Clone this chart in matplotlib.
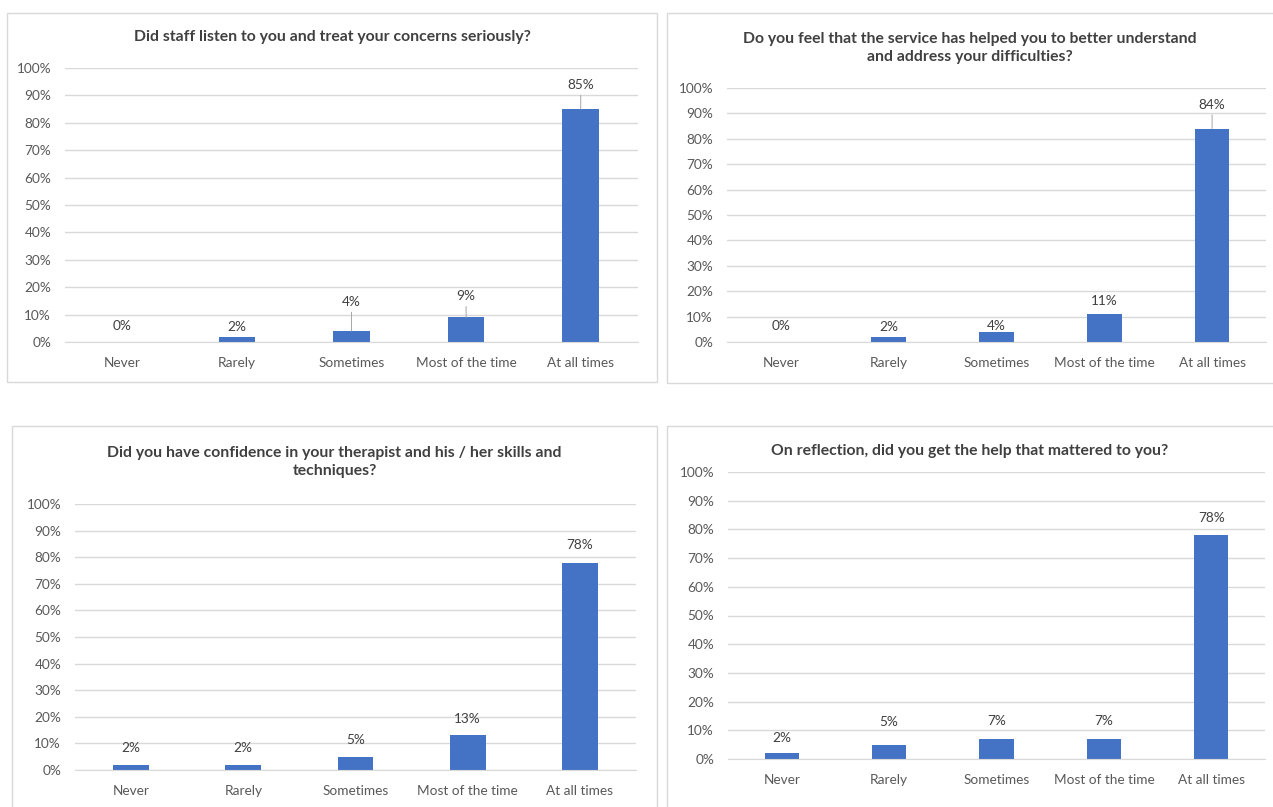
import matplotlib.pyplot as plt
from matplotlib.patches import Rectangle
from matplotlib.ticker import PercentFormatter

# Survey answers, percent of respondents
categories = ["Never", "Rarely", "Sometimes", "Most of the time", "At all times"]
listened = [0, 2, 4, 9, 85]
understand = [0, 2, 4, 11, 84]
confidence = [2, 2, 5, 13, 78]
mattered = [2, 5, 7, 7, 78]

titles = [
    "Did staff listen to you and treat your concerns seriously?",
    "Do you feel that the service has helped you to better understand\nand address your difficulties?",
    "Did you have confidence in your therapist and his / her skills and\ntechniques?",
    "On reflection, did you get the help that mattered to you?",
]

BAR = "#4472C4"
GRID = "#D9D9D9"
TICK = "#595959"
LABEL = "#404040"
W, H = 1273, 807

plt.rcParams["font.family"] = ["Lato", "DejaVu Sans"]

fig = plt.figure(figsize=(W / 100, H / 100), dpi=100)
fig.patch.set_facecolor("white")


def px_rect(x0, y0, x1, y1):
    # pixel box (top-left origin) -> figure fraction [l, b, w, h]
    return [x0 / W, (H - y1) / H, (x1 - x0) / W, (y1 - y0) / H]


# (frame box, plot box, title y, label offsets px, leader flags)
panels = [
    dict(values=listened, frame=(7, 13, 657, 382), plot=(65, 68, 638, 342), title_y=37,
         offsets=[16, 10, 29, 21, 24], leaders=[0, 0, 1, 1, 1]),
    dict(values=understand, frame=(667, 13, 1290, 383), plot=(727, 88, 1266, 342), title_y=48,
         offsets=[16, 10, 6, 13, 24], leaders=[0, 0, 0, 0, 1]),
    dict(values=confidence, frame=(12, 426, 657, 830), plot=(75, 504, 636, 770), title_y=462,
         offsets=[17, 17, 17, 16, 18], leaders=[0, 0, 0, 0, 0]),
    dict(values=mattered, frame=(667, 426, 1290, 830), plot=(728, 472, 1265, 759), title_y=451,
         offsets=[15, 23, 18, 18, 17], leaders=[0, 0, 0, 0, 0]),
]

for title, p in zip(titles, panels):
    fx0, fy0, fx1, fy1 = p["frame"]
    fig.patches.append(Rectangle((fx0 / W, (H - fy1) / H), (fx1 - fx0) / W, (fy1 - fy0) / H,
                                 transform=fig.transFigure, fill=False,
                                 edgecolor=GRID, linewidth=1.0))
    fig.text((fx0 + min(fx1, W)) / 2 / W, 1 - p["title_y"] / H, title,
             ha="center", va="center", fontsize=11.3, fontweight="bold",
             color=LABEL, linespacing=1.4)

    ax = fig.add_axes(px_rect(*p["plot"]))
    x = list(range(len(categories)))
    ax.bar(x, p["values"], width=0.32, color=BAR, zorder=3)
    ax.set_xlim(-0.5, len(categories) - 0.5)
    ax.set_ylim(0, 100)
    ax.set_yticks(range(0, 101, 10))
    ax.yaxis.set_major_formatter(PercentFormatter(decimals=0))
    ax.set_xticks(x)
    ax.set_xticklabels(categories)
    ax.tick_params(axis="both", length=0, colors=TICK, labelsize=9.8)
    ax.tick_params(axis="y", pad=10)
    ax.tick_params(axis="x", pad=11)
    ax.grid(axis="y", color=GRID, linewidth=1.0, zorder=0)
    for side in ("top", "right", "left"):
        ax.spines[side].set_visible(False)
    ax.spines["bottom"].set_color(GRID)
    ax.spines["bottom"].set_zorder(4)
    ax.set_facecolor("none")

    for xi, v, off, lead in zip(x, p["values"], p["offsets"], p["leaders"]):
        kw = {}
        if lead:
            kw["arrowprops"] = dict(arrowstyle="-", color="#A6A6A6", lw=0.7,
                                    shrinkA=1, shrinkB=0)
        ax.annotate(f"{v}%", xy=(xi, v), xytext=(0, off), textcoords="offset pixels",
                    ha="center", va="center", fontsize=9.8, color=LABEL,
                    annotation_clip=False, **kw)

fig.savefig("out.png", dpi=100, facecolor="white")
